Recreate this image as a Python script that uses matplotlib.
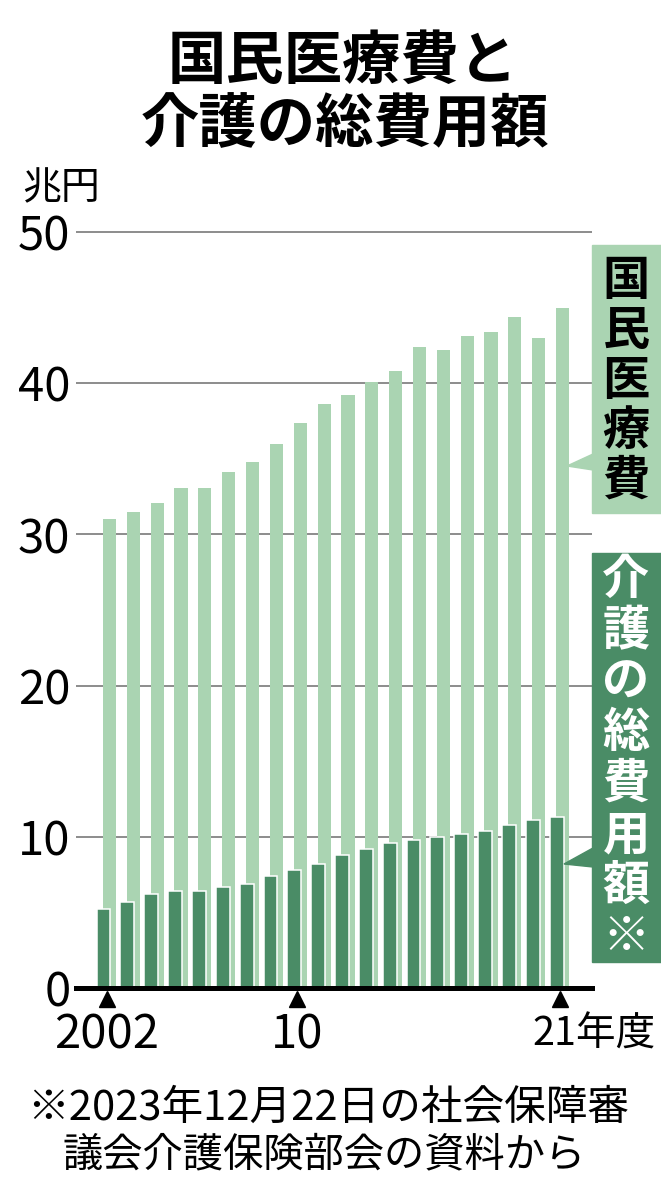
import numpy as np
import matplotlib
matplotlib.use('Agg')
import matplotlib.pyplot as plt
from matplotlib.patches import Rectangle, Polygon

plt.rcParams['font.family'] = ['Noto Sans CJK JP', 'DejaVu Sans']
NUM_FONT = ['Liberation Sans Narrow', 'Noto Sans CJK JP', 'DejaVu Sans']

# data (兆円)
years = list(range(2002, 2022))
medical = [31.0, 31.5, 32.1, 33.1, 33.1, 34.1, 34.8, 36.0, 37.4, 38.6,
           39.2, 40.1, 40.8, 42.4, 42.2, 43.1, 43.4, 44.4, 43.0, 45.0]
care = [5.2, 5.7, 6.2, 6.4, 6.4, 6.7, 6.9, 7.4, 7.8, 8.2,
        8.8, 9.2, 9.6, 9.8, 10.0, 10.2, 10.4, 10.8, 11.1, 11.3]
yticks = [0, 10, 20, 30, 40, 50]
marked_years = [2002, 2010, 2021]
marked_labels = ['2002', '10', '21年度']

LIGHT = '#aad4b2'
DARK = '#4a8c66'

W, H = 661, 1200


def fx(px):
    return px / W


def fy(py):
    return 1 - py / H


fig = plt.figure(figsize=(W / 100, H / 100), dpi=100)
ax = fig.add_axes([fx(76), fy(988), (592 - 76) / W, (988 - 232) / H])

x = np.arange(len(years))
ax.bar(x + 0.125, medical, width=0.55, color=LIGHT, zorder=2)
ax.bar(x - 0.125, care, width=0.58, color=DARK, edgecolor='white', linewidth=1.1, zorder=3)

ax.set_xlim(-1.28, 20.36)
ax.set_ylim(0, 50)
ax.hlines(yticks[1:], -1.28, 20.36, color='#8c8c8c', linewidth=1.4, zorder=1, clip_on=False)
ax.axhline(0, color='black', linewidth=3.6, zorder=4, clip_on=False)

for s in ax.spines.values():
    s.set_visible(False)
ax.set_xticks([])
ax.set_yticks(yticks)
ax.set_yticklabels([str(v) for v in yticks], family=NUM_FONT, fontsize=34)
ax.tick_params(axis='y', length=0, pad=4)

# year markers and labels
idx = [years.index(y) for y in marked_years]
ax.plot(idx, [-0.0145] * len(idx), linestyle='none', marker='^', markersize=11,
        color='black', transform=ax.get_xaxis_transform(), clip_on=False)
for i, lab in zip(idx[:-1], marked_labels[:-1]):
    ax.text(i, -0.062, lab, ha='center', va='center', fontsize=34, family=NUM_FONT,
            transform=ax.get_xaxis_transform())
# last label: "21" sits on the marker, 年度 trails to the right
ax.text(idx[-1] - 1.15, -0.062, marked_labels[-1], ha='left', va='center', fontsize=28.5,
        family=NUM_FONT, transform=ax.get_xaxis_transform())

# title and unit
fig.text(fx(343), fy(62), '国民医療費と', ha='center', va='center', fontsize=42, fontweight='bold')
fig.text(fx(345), fy(125), '介護の総費用額', ha='center', va='center', fontsize=42, fontweight='bold')
fig.text(fx(22), fy(188), '兆円', ha='left', va='center', fontsize=28)

# side labels
fig.add_artist(Rectangle((fx(592), fy(513)), 69 / W, 268 / H, color=LIGHT, transform=fig.transFigure))
fig.add_artist(Polygon([(fx(567), fy(466)), (fx(593), fy(454)), (fx(593), fy(470))],
                       closed=True, color=LIGHT, transform=fig.transFigure))
for k, ch in enumerate('国民医療費'):
    fig.text(fx(626), fy(281 + 50 * k), ch, ha='center', va='center', fontsize=34,
             fontweight='bold', color='black')

fig.add_artist(Rectangle((fx(592), fy(962)), 69 / W, 409 / H, color=DARK, transform=fig.transFigure))
fig.add_artist(Polygon([(fx(564), fy(864)), (fx(593), fy(848)), (fx(593), fy(867))],
                       closed=True, color=DARK, transform=fig.transFigure))
for k, ch in enumerate('介護の総費用額※'):
    fig.text(fx(626), fy(580 + 51 * k), ch, ha='center', va='center', fontsize=34,
             fontweight='bold', color='white')

# footnote
fig.text(fx(27), fy(1108), '※2023年12月22日の社会保障審', ha='left', va='center', fontsize=30)
fig.text(fx(63), fy(1155), '議会介護保険部会の資料から', ha='left', va='center', fontsize=29)

fig.savefig('out.png', dpi=100)
